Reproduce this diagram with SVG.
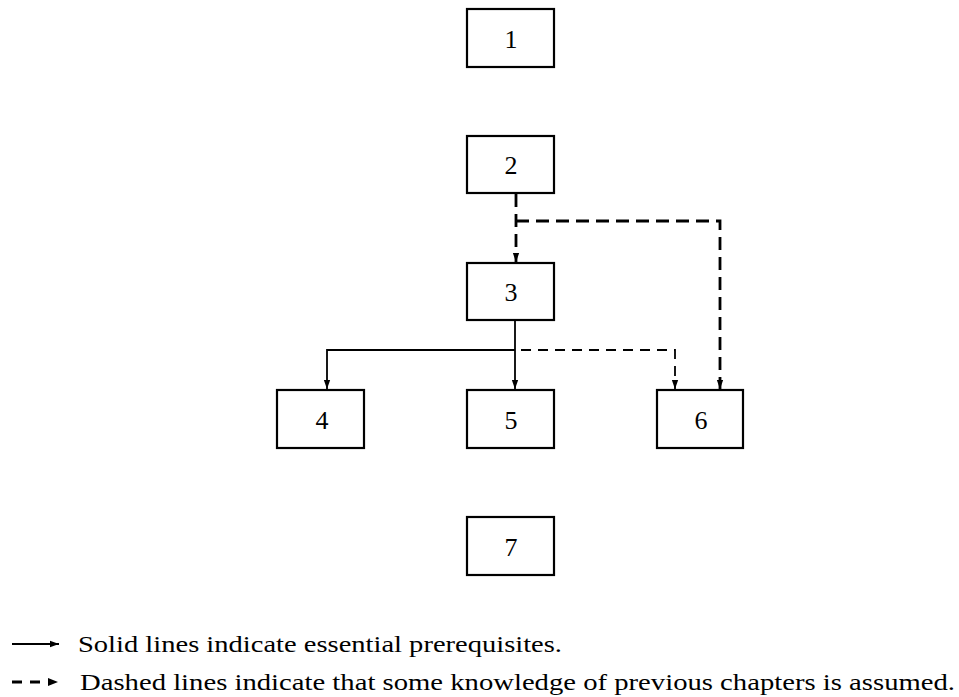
<svg xmlns="http://www.w3.org/2000/svg" width="959" height="697" viewBox="0 0 959 697">
  <style>
    .box { fill: #fff; stroke: #000; stroke-width: 2.2; }
    .num { font-family: 'Liberation Serif', 'Times New Roman', Times, serif; font-size: 26px; text-anchor: middle; fill: #000; }
    .solid { fill: none; stroke: #000; stroke-width: 1.8; }
    .dash { fill: none; stroke: #000; stroke-width: 1.8; stroke-dasharray: 10 7; }
    .dashb { fill: none; stroke: #000; stroke-width: 2.8; stroke-dasharray: 13 7; }
    .legend { font-family: 'Liberation Serif', 'Times New Roman', Times, serif; font-size: 23px; fill: #000; }
  </style>
  <defs>
    <marker id="ah" viewBox="0 0 10 10" refX="10" refY="5" markerWidth="9" markerHeight="9" markerUnits="userSpaceOnUse" orient="auto">
      <path d="M0,1.5 L10,5 L0,8.5 Z" fill="#000"/>
    </marker>
  </defs>

  <g id="connectors">
    <!-- 2 to 3 and 2 to 6, dashed -->
    <path class="dashb" d="M516,194 L516,262" marker-end="url(#ah)"/>
    <path class="dashb" d="M516,221 L720,221 L720,389" marker-end="url(#ah)"/>
    <!-- 3 to 4 and 3 to 5, solid -->
    <path class="solid" d="M515,320 L515,389" marker-end="url(#ah)"/>
    <path class="solid" d="M515,350 L327,350 L327,389" marker-end="url(#ah)"/>
    <!-- 3 to 6, dashed -->
    <path class="dash" d="M521,350 L675,350 L675,389" marker-end="url(#ah)"/>
  </g>

  <g id="n1"><rect class="box" x="467" y="9" width="87" height="58"/><text class="num" x="511" y="48">1</text></g>
  <g id="n2"><rect class="box" x="467" y="136" width="87" height="57"/><text class="num" x="511" y="174">2</text></g>
  <g id="n3"><rect class="box" x="467" y="263" width="87" height="57"/><text class="num" x="511" y="301">3</text></g>
  <g id="n4"><rect class="box" x="277" y="390" width="87" height="58"/><text class="num" x="322" y="429">4</text></g>
  <g id="n5"><rect class="box" x="467" y="390" width="87" height="58"/><text class="num" x="511" y="429">5</text></g>
  <g id="n6"><rect class="box" x="657" y="390" width="86" height="58"/><text class="num" x="701" y="429">6</text></g>
  <g id="n7"><rect class="box" x="467" y="517" width="87" height="58"/><text class="num" x="511" y="556">7</text></g>

  <g id="legend">
    <path class="solid" d="M12,644 L59,644" marker-end="url(#ah)"/>
    <text class="legend" x="78" y="652" textLength="484" lengthAdjust="spacingAndGlyphs">Solid lines indicate essential prerequisites.</text>
    <path d="M12,682 L48,682" fill="none" stroke="#000" stroke-width="2.8" stroke-dasharray="10 8"/>
    <path d="M48,678 L58,682 L48,686 Z" fill="#000"/>
    <text class="legend" x="80" y="690" textLength="875" lengthAdjust="spacingAndGlyphs">Dashed lines indicate that some knowledge of previous chapters is assumed.</text>
  </g>
</svg>
